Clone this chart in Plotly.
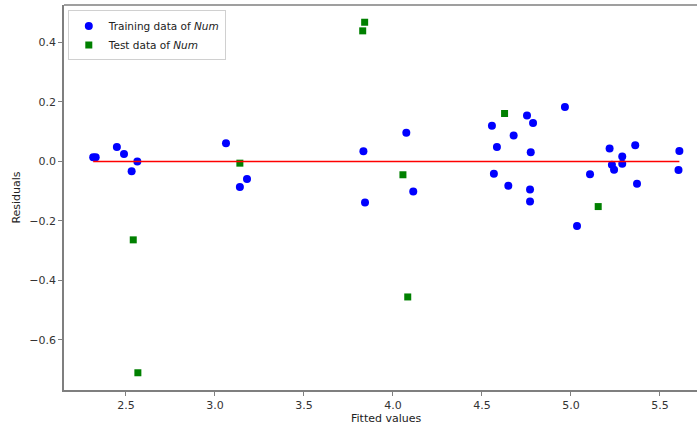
import plotly.graph_objects as go

# Training data (fitted values, residuals)
train_fitted = [2.316, 2.330, 2.449, 2.489, 2.532, 2.564, 3.062, 3.140, 3.180,
                3.834, 3.843, 4.075, 4.114, 4.556, 4.584, 4.567, 4.648, 4.678,
                4.753, 4.787, 4.774, 4.770, 4.770, 4.966, 5.034, 5.107, 5.217,
                5.230, 5.242, 5.288, 5.288, 5.361, 5.371, 5.609, 5.604]
train_resid = [0.014, 0.014, 0.048, 0.025, -0.033, 0.000, 0.061, -0.086, -0.059,
               0.034, -0.138, 0.096, -0.101, 0.120, 0.048, -0.042, -0.082, 0.087,
               0.154, 0.129, 0.031, -0.095, -0.135, 0.183, -0.217, -0.043, 0.043,
               -0.011, -0.028, 0.016, -0.008, 0.054, -0.075, 0.035, -0.029]

# Test data
test_fitted = [2.541, 2.567, 3.140, 3.830, 3.841, 4.056, 4.083, 4.627, 5.153]
test_resid = [-0.264, -0.711, -0.006, 0.439, 0.468, -0.045, -0.456, 0.161, -0.152]

x_ticks = [2.5, 3.0, 3.5, 4.0, 4.5, 5.0, 5.5]
y_ticks = [-0.6, -0.4, -0.2, 0.0, 0.2, 0.4]

FONT = "DejaVu Sans"

fig = go.Figure()

fig.add_trace(go.Scatter(
    x=train_fitted, y=train_resid, mode="markers",
    name="Training data of <i>Num</i>",
    marker=dict(symbol="circle", size=8, color="#0000ff", line=dict(width=0)),
))
fig.add_trace(go.Scatter(
    x=test_fitted, y=test_resid, mode="markers",
    name="Test data of <i>Num</i>",
    marker=dict(symbol="square", size=7, color="#008000", line=dict(width=0)),
))
fig.add_trace(go.Scatter(
    x=[min(train_fitted), max(train_fitted)], y=[0, 0], mode="lines",
    line=dict(color="#ff0000", width=1.5), showlegend=False, hoverinfo="skip",
))

axis_common = dict(
    showgrid=False, zeroline=False, showline=True, linecolor="#7f7f7f", linewidth=1.5,
    ticks="outside", ticklen=4, tickcolor="#7f7f7f", tickwidth=1,
    tickfont=dict(family=FONT, size=11, color="#333333"),
)

fig.update_layout(
    width=697, height=428,
    margin=dict(l=64, r=0, t=5, b=38),
    paper_bgcolor="white", plot_bgcolor="white",
    font=dict(family=FONT, color="#222222"),
    xaxis=dict(range=[2.152, 5.708], tickvals=x_ticks,
               ticktext=[f"{v:.1f}" for v in x_ticks], **axis_common),
    yaxis=dict(range=[-0.769, 0.526], tickvals=y_ticks,
               ticktext=[f"{v:.1f}".replace("-", "\u2212") for v in y_ticks],
               title=dict(text="Residuals", font=dict(family=FONT, size=11, color="#222222"),
                          standoff=6),
               **axis_common),
    legend=dict(x=0.006, y=0.986, xanchor="left", yanchor="top",
                bgcolor="white", bordercolor="#d0d0d0", borderwidth=1,
                font=dict(family=FONT, size=10.5, color="#222222"),
                tracegroupgap=0),
    showlegend=True,
)

# top spine
fig.add_shape(type="line", xref="paper", yref="paper", x0=0, x1=1, y0=1, y1=1,
              line=dict(color="#7f7f7f", width=1.5))

# x-axis title (axes extend past the visible right edge in the reference)
fig.add_annotation(text="Fitted values", xref="x", yref="paper", x=3.966, y=0,
                   yshift=-28, showarrow=False, xanchor="center", yanchor="middle",
                   font=dict(family=FONT, size=11, color="#222222"))

fig.write_html("out.html")
